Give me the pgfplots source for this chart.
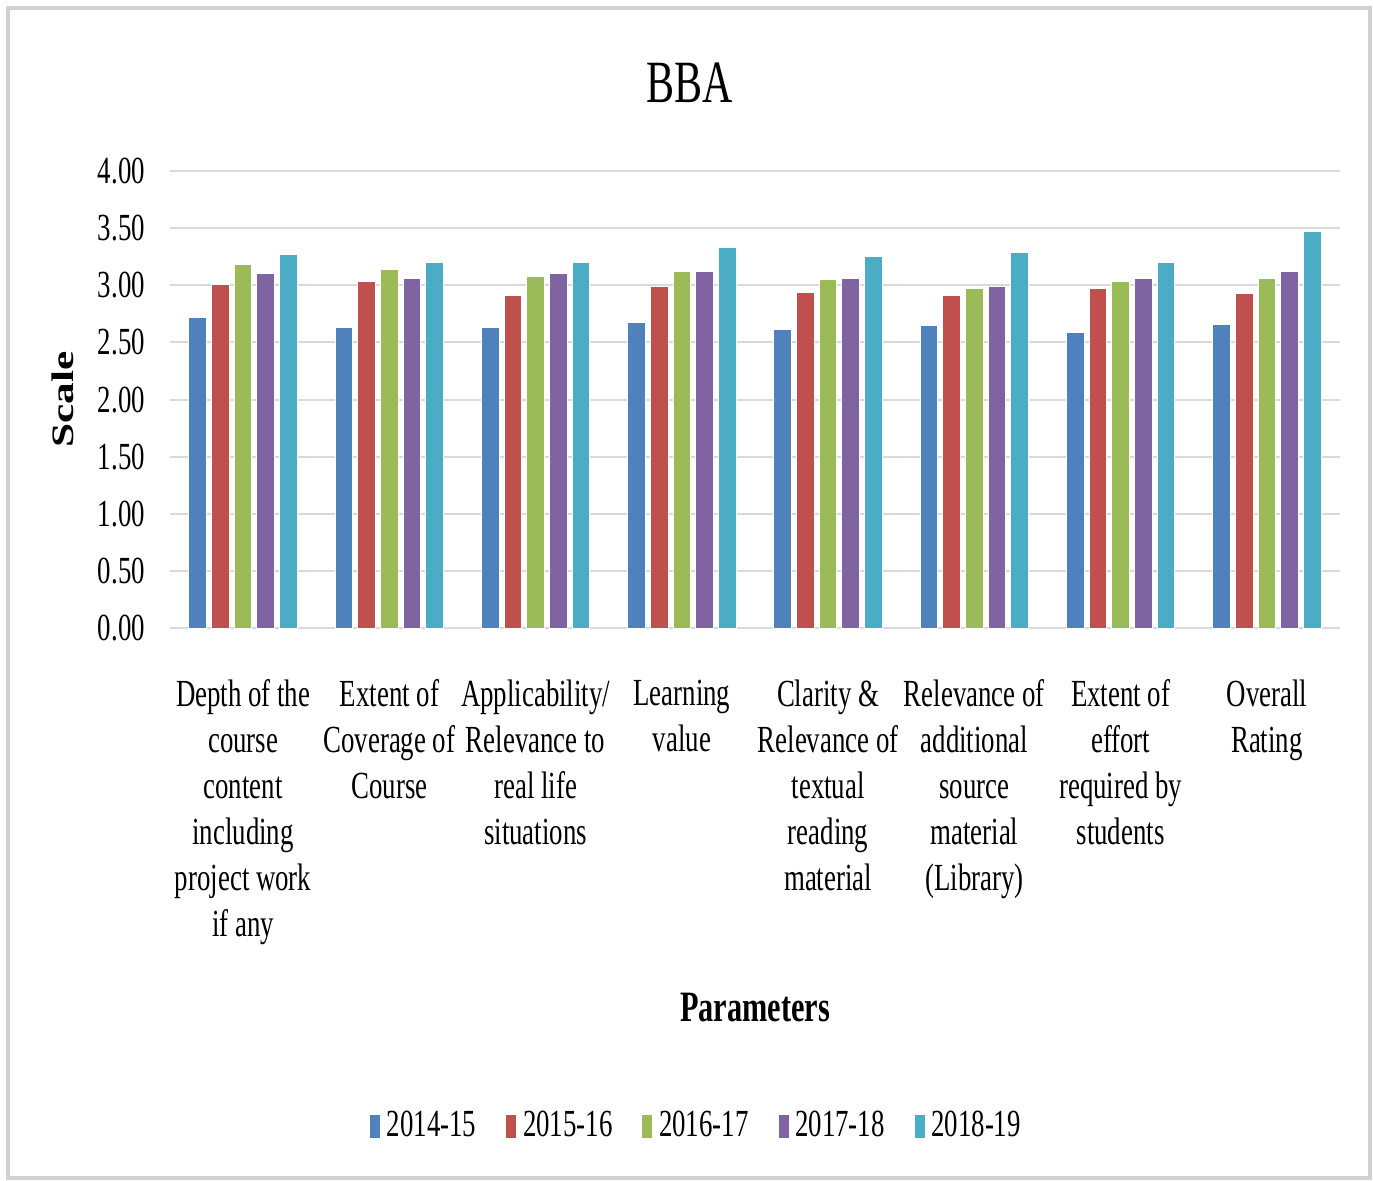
\documentclass[border=0pt]{standalone}
\usepackage{pgfplots}
\pgfplotsset{compat=1.18}
\usepackage{fontspec}
\setmainfont{Liberation Serif}[FakeStretch=0.7]
\newfontfamily\plainserif{Liberation Serif}

\definecolor{c1}{HTML}{4F81BD}
\definecolor{c2}{HTML}{C0504D}
\definecolor{c3}{HTML}{9BBB59}
\definecolor{c4}{HTML}{8064A2}
\definecolor{c5}{HTML}{4BACC6}

\begin{document}
\begin{tikzpicture}
\begin{axis}[
  scale only axis,
  width=351pt, height=137.1pt,
  ybar=1.5pt, bar width=5.3pt,
  xmin=-0.5, xmax=7.5,
  ymin=0, ymax=4,
  ytick={0,0.5,...,4},
  xtick=data,
  xticklabels={
    {Depth of the\\course\\content\\including\\project work\\if any},
    {Extent of\\Coverage of\\Course},
    {Applicability/\\Relevance to\\real life\\situations},
    {Learning\\value},
    {Clarity \&\\Relevance of\\textual\\reading\\material},
    {Relevance of\\additional\\source\\material\\(Library)},
    {Extent of\\effort\\required by\\students},
    {Overall\\Rating}},
  major tick length=0pt,
  axis line style={draw=none},
  ymajorgrids,
  grid style={draw=black!15, line width=0.6pt},
  /pgf/number format/fixed,
  /pgf/number format/fixed zerofill,
  /pgf/number format/precision=2,
  /pgf/number format/assume math mode=true,
  yticklabel style={font=\fontsize{11.5}{13.8}\selectfont, xshift=-4pt},
  xticklabel style={font=\fontsize{11.5}{13.8}\selectfont, align=center, yshift=-12pt},
  title={BBA},
  title style={font=\fontsize{18}{20}\selectfont, at={(axis description cs:0.444,1.15)}, anchor=center},
  xlabel={\bfseries Parameters},
  xlabel style={font=\fontsize{13}{15}\selectfont, at={(axis description cs:0.5,-0.83)}, anchor=center},
  ylabel={\scalebox{1}[0.72]{\plainserif\bfseries Scale}},
  ylabel style={font=\fontsize{13}{15}\selectfont, at={(axis description cs:-0.092,0.5)}, anchor=center},
  legend columns=5,
  legend style={draw=none, fill=none, font=\fontsize{11.5}{13.8}\selectfont,
    at={(axis description cs:0.452,-1.09)}, anchor=center,
    /tikz/every even column/.append style={column sep=7pt}},
  legend image code/.code={\fill[#1,draw=none] (0pt,-3.6pt) rectangle (3pt,3.4pt);},
  every axis plot/.append style={draw=white, line width=0.3pt},
]
\addplot[fill=c1] coordinates {(0,2.72) (1,2.63) (2,2.63) (3,2.67) (4,2.61) (5,2.65) (6,2.59) (7,2.66)};
\addplot[fill=c2] coordinates {(0,3.01) (1,3.03) (2,2.91) (3,2.99) (4,2.94) (5,2.91) (6,2.97) (7,2.93)};
\addplot[fill=c3] coordinates {(0,3.18) (1,3.14) (2,3.08) (3,3.12) (4,3.05) (5,2.97) (6,3.03) (7,3.06)};
\addplot[fill=c4] coordinates {(0,3.10) (1,3.06) (2,3.10) (3,3.12) (4,3.06) (5,2.99) (6,3.06) (7,3.12)};
\addplot[fill=c5] coordinates {(0,3.27) (1,3.20) (2,3.20) (3,3.33) (4,3.25) (5,3.29) (6,3.20) (7,3.47)};
\legend{2014-15,2015-16,2016-17,2017-18,2018-19}
\coordinate (bl) at (axis description cs:-0.1453,-1.2079);
\coordinate (tr) at (axis description cs:1.0282,1.3742);
\coordinate (fbl) at (axis description cs:-0.1385,-1.2035);
\coordinate (ftr) at (axis description cs:1.0256,1.3567);
\end{axis}
\draw[black!18, line width=1.2pt] (fbl) rectangle (ftr);
\path (bl) rectangle (tr);
\end{tikzpicture}
\end{document}
